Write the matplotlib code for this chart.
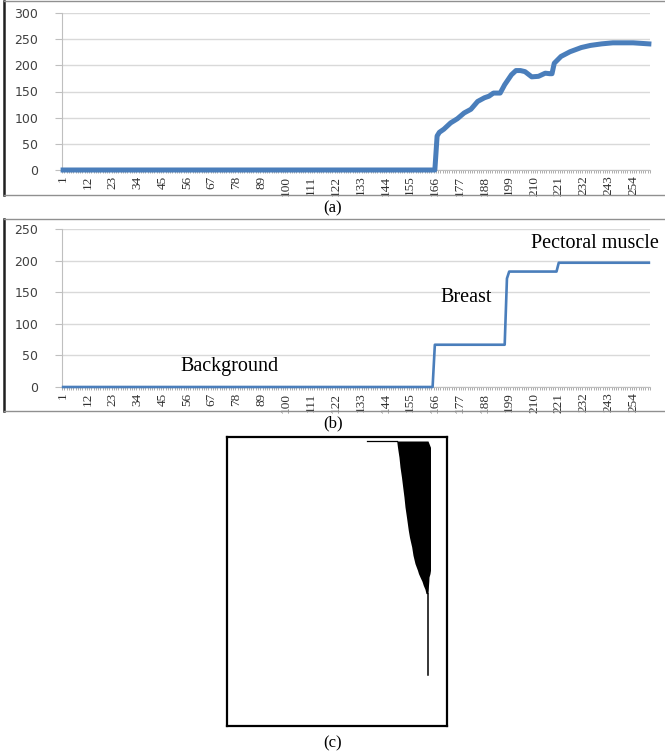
import matplotlib
matplotlib.use("Agg")
import matplotlib.pyplot as plt
from matplotlib.lines import Line2D
import numpy as np

# (a) raw intensity profile along the scan line
profile_x = [1, 166, 167, 168, 170, 173, 176, 179, 182, 185, 188, 190, 192, 195, 197,
             200, 202, 204, 206, 209, 212, 215, 217, 218, 219, 222, 226, 231, 235, 240,
             245, 254, 261]
profile_y = [0, 0, 65, 72, 78, 90, 98, 109, 116, 131, 138, 141, 147, 147, 163,
             182, 190, 190, 188, 178, 179, 185, 184, 184, 204, 217, 226, 234, 238, 241,
             243, 243, 241]

# (b) quantised profile (background / breast / pectoral muscle)
levels_x = [1, 165, 166, 197, 198, 199, 220, 221, 261]
levels_y = [0, 0, 67, 67, 172, 183, 183, 197, 197]

n_cat = 261
tick_cats = list(range(1, 255, 11))

region_labels = ["Background", "Breast", "Pectoral muscle"]
region_pos = [(75, 32), (180, 142), (237, 228)]

# (c) binary mask outline: rows and left/right column of the black region
mask_rows = [3.7, 10, 20, 29.7, 40, 49.7, 60, 69.7, 80, 93, 100, 109.7, 118, 126.3,
             133, 136.3, 139.7, 144, 148, 152, 156.3]
mask_left = [169.7, 170.5, 172, 173, 174.5, 175.7, 177, 178, 179.5, 181.3, 182.5, 184.7,
             186, 188, 190.5, 191.5, 193, 195, 196.3, 198, 199]
mask_right = [201, 203.5, 203.5, 203.5, 203.5, 203.5, 203.5, 203.5, 203.5, 203.5, 203.5,
              203.5, 203.5, 203.5, 203.5, 203, 202, 201.8, 201.5, 201.3, 201]
stem_rows = [156.3, 237.3]
stem_col = 201
top_edge_cols = [140.3, 169.7]
top_edge_row = 3.7

W, H = 665, 755
fig = plt.figure(figsize=(W / 100, H / 100), dpi=100)

blue = "#4a7ebb"
grid_c = "#d9d9d9"
axis_c = "#bfbfbf"


def px_axes(left, top, right, bottom):
    return fig.add_axes([left / W, 1 - bottom / H, (right - left) / W, (bottom - top) / H])


def style_profile(ax, ymax):
    ax.set_xlim(0.5, n_cat + 0.5)
    ax.set_ylim(0, ymax)
    ax.set_yticks(range(0, ymax + 1, 50))
    ax.yaxis.grid(True, color=grid_c, linewidth=1)
    ax.set_axisbelow(True)
    for s in ["top", "right"]:
        ax.spines[s].set_visible(False)
    ax.spines["left"].set_color(axis_c)
    ax.spines["bottom"].set_color(axis_c)
    ax.tick_params(axis="y", length=5, color=axis_c, labelsize=9,
                   labelcolor="#404040", pad=12)
    for lab in ax.get_yticklabels():
        lab.set_family("DejaVu Sans")
    ax.set_xticks(tick_cats)
    ax.set_xticklabels([str(t) for t in tick_cats], rotation=90,
                       fontsize=9.5, family="Liberation Serif", color="#303030")
    ax.set_xticks(np.arange(0.5, n_cat + 1, 1), minor=True)
    ax.tick_params(axis="x", which="major", length=0, pad=4)
    ax.tick_params(axis="x", which="minor", length=2.5, width=0.6, color="#a0a0a0")


ax_a = px_axes(62, 13, 650, 170)
ax_a.plot(profile_x, profile_y, color=blue, linewidth=3.6, solid_joinstyle="round",
          clip_on=False, zorder=3)
style_profile(ax_a, 300)

ax_b = px_axes(62, 229.3, 650, 387)
ax_b.plot(levels_x, levels_y, color=blue, linewidth=1.9, clip_on=False, zorder=3)
style_profile(ax_b, 250)
for txt, (cx, cy) in zip(region_labels, region_pos):
    ax_b.text(cx, cy, txt, ha="center", va="center", fontsize=14.5,
              family="Liberation Serif", clip_on=False)

# panel (c): segmented mask
ax_c = px_axes(227, 437.3, 447, 725.7)
ax_c.set_xlim(0, 220)
ax_c.set_ylim(288.4, 0)
ax_c.fill_betweenx(mask_rows, mask_left, mask_right, color="black", linewidth=0)
ax_c.plot([stem_col, stem_col], stem_rows, color="black", linewidth=1.1)
ax_c.plot(top_edge_cols, [top_edge_row, top_edge_row], color="black", linewidth=0.9)
ax_c.set_xticks([])
ax_c.set_yticks([])
for s in ax_c.spines.values():
    s.set_linewidth(1.6)
    s.set_color("black")

# chart frames around (a) and (b)
def frame(top, bottom):
    fig.add_artist(Line2D([4 / W, 4 / W], [1 - top / H, 1 - bottom / H],
                          color="#202020", linewidth=1.8))
    for y in (top, bottom):
        fig.add_artist(Line2D([4 / W, 1], [1 - y / H, 1 - y / H],
                              color="#909090", linewidth=1.0))


frame(0.8, 195)
frame(218.5, 411)

for cap, y in [("(a)", 208), ("(b)", 423), ("(c)", 743)]:
    fig.text(333 / W, 1 - y / H, cap, ha="center", va="center", fontsize=12,
             family="Liberation Serif")

fig.savefig("out.png", dpi=100)
